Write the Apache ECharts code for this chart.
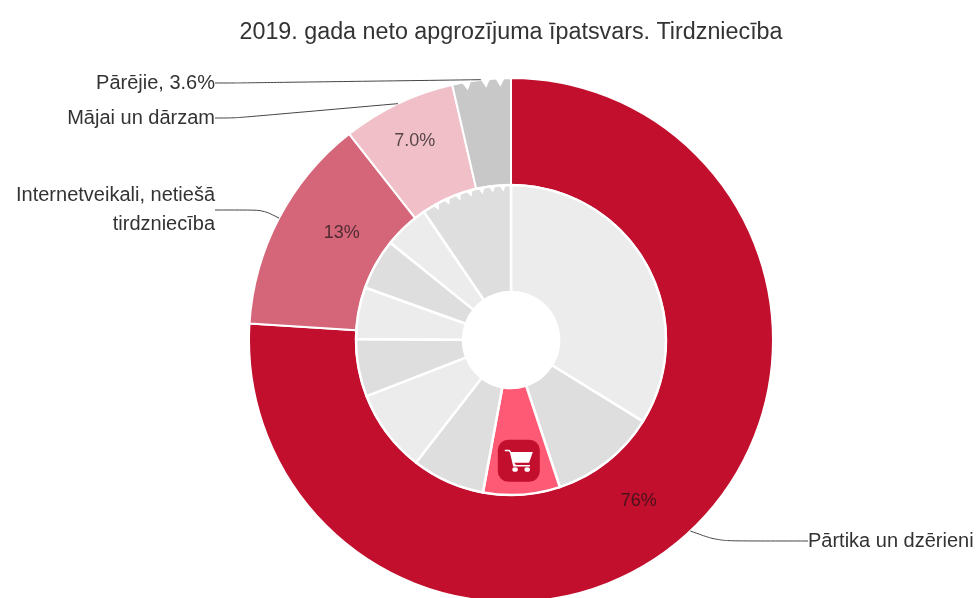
<!DOCTYPE html>
<html><head><meta charset="utf-8">
<style>html,body{margin:0;padding:0;background:#fff}#c{width:978px;height:598px}</style>
<script src="https://cdn.jsdelivr.net/npm/echarts@6/dist/echarts.min.js"></script>
</head><body><div id="c"></div>
<script>
const titleText = '2019. gada neto apgrozījuma īpatsvars. Tirdzniecība';
const outerNames = ['Pārtika un dzērieni', 'Internetveikali, netiešā\ntirdzniecība', 'Mājai un dārzam', 'Pārējie, 3.6%'];
const outerValues = [76.0, 13.4, 7.0, 3.6];
const outerPctLabels = ['76%', '13%', '7.0%', ''];
const innerValues = [33.8, 11.1, 8.0, 7.6, 8.6, 6.0, 5.4, 5.3, 4.7, 9.5];
const outerNotches = [[258, 350.2], [258, 354.4], [258, 357.6]];
const innerNotches = [[152, 331], [152, 335.5], [152, 340], [152, 344.5], [152, 349], [152, 353], [152, 357]];
const cartPoint = [[121, 176.3]];

const outerColors = ['#C10F2D', '#D5667A', '#F0BFC8', '#C8C8C8'];
const innerColors = ['#ECECEC', '#DEDEDE', '#FF5A75', '#DEDEDE', '#ECECEC', '#DEDEDE', '#ECECEC', '#DEDEDE', '#ECECEC', '#DEDEDE'];
const nameLayouts = [
  {x: 808, y: 541, align: 'left', verticalAlign: 'middle'},
  {x: 215, y: 210, align: 'right', verticalAlign: 'middle'},
  {x: 215, y: 118, align: 'right', verticalAlign: 'middle'},
  {x: 215, y: 83, align: 'right', verticalAlign: 'middle'}
];
const leaderBends = [[12, 90], [14, 48], [10, 20], [10, 20]];
const pctOffsets = [{dx: -17, dy: 7}, {dx: 18, dy: -9}, {dx: -5, dy: -8}, {dx: 0, dy: 0}];
const cartPath = 'path://M0 2H5L7 5H30L26 19H10L12 22H27V24H9L5.5 5.5L4 4H0ZM11 25A3 3 0 1 0 11.01 25ZM24 25A3 3 0 1 0 24.01 25Z';
const center = [511, 340];
const font = '"Liberation Sans", Arial, sans-serif';

const chart = echarts.init(document.getElementById('c'));
chart.setOption({
  animation: false,
  title: {text: titleText, left: 506, top: 16, textAlign: 'center',
    textStyle: {fontFamily: font, fontSize: 23.3, fontWeight: 'normal', color: '#333'}},
  polar: {center: center, radius: 262},
  angleAxis: {type: 'value', min: 0, max: 360, startAngle: 90, clockwise: true, show: false},
  radiusAxis: {type: 'value', min: 0, max: 262, show: false},
  series: [
    {type: 'pie', center: center, radius: [155, 262], startAngle: 90, clockwise: true, silent: true,
      data: outerValues.map((v, i) => ({value: v, name: outerNames[i], itemStyle: {color: outerColors[i]},
        label: {formatter: outerPctLabels[i]}})),
      itemStyle: {borderColor: '#fff', borderWidth: 2},
      label: {show: true, position: 'inside', fontFamily: font, fontSize: 18, color: 'rgba(25,20,20,0.72)'},
      labelLine: {show: false},
      labelLayout: p => pctOffsets[p.dataIndex]},
    {type: 'pie', center: center, radius: [48, 155], startAngle: 90, clockwise: true, silent: true,
      data: innerValues.map((v, i) => ({value: v, itemStyle: {color: innerColors[i]}})),
      itemStyle: {borderColor: '#fff', borderWidth: 2.5},
      label: {show: false}, labelLine: {show: false}},
    {type: 'pie', center: center, radius: [155, 262], startAngle: 90, clockwise: true, silent: true, z: 5,
      data: outerValues.map((v, i) => ({value: v, name: outerNames[i],
        labelLine: {length: leaderBends[i][0], length2: leaderBends[i][1]}})),
      itemStyle: {color: 'rgba(0,0,0,0)'},
      label: {show: true, position: 'outside', formatter: '{b}', fontFamily: font, fontSize: 20, lineHeight: 29, color: '#333', padding: 0},
      labelLine: {show: true, smooth: 0.3, lineStyle: {color: '#444', width: 1}},
      labelLayout: p => nameLayouts[p.dataIndex]},
    {type: 'scatter', coordinateSystem: 'polar', silent: true, z: 6, data: outerNotches,
      symbol: 'triangle', symbolSize: [10, 9], itemStyle: {color: '#fff', opacity: 1},
      symbolRotate: (v) => 180 - v[1]},
    {type: 'scatter', coordinateSystem: 'polar', silent: true, z: 6, data: innerNotches,
      symbol: 'triangle', symbolSize: [7, 7], itemStyle: {color: '#fff', opacity: 1},
      symbolRotate: (v) => 180 - v[1]},
    {type: 'scatter', coordinateSystem: 'polar', silent: true, z: 7, data: cartPoint,
      symbol: 'roundRect', symbolSize: 42, itemStyle: {color: '#C10F2D', opacity: 1}},
    {type: 'scatter', coordinateSystem: 'polar', silent: true, z: 8, data: cartPoint,
      symbol: cartPath, symbolSize: [28, 22], itemStyle: {color: '#fff', opacity: 1}}
  ]
});
</script></body></html>
